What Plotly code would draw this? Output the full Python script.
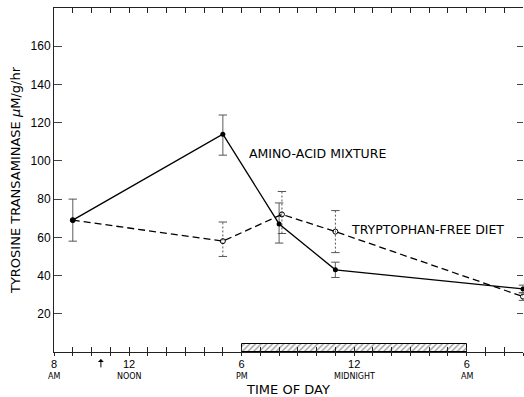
import plotly.graph_objects as go

# ---- data ----
hours_amino = [9, 17, 20, 23, 33]
amino_mean = [69, 114, 67, 43, 33]
amino_hi = [80, 124, 78, 47, 35]
amino_lo = [58, 103, 57, 39, 31]

hours_trp = [9, 17, 20.15, 23, 33]
trp_mean = [69, 58, 72, 63, 29]
trp_hi = [None, 68, 84, 74, 31]
trp_lo = [None, 50, 62, 52, 27]

dark_start = 18
dark_end = 30
dark_bar_height = 4.3
arrow_hour = 10.5

y_tick_vals = [20, 40, 60, 80, 100, 120, 140, 160]
x_hours = list(range(8, 34))
x_label_map = {
    8: ("8", "AM"),
    12: ("12", "NOON"),
    18: ("6", "PM"),
    24: ("12", "MIDNIGHT"),
    30: ("6", "AM"),
}

FONT = "Liberation Sans, Arial, sans-serif"
WFONT = "DejaVu Sans, Liberation Sans, sans-serif"

fig = go.Figure()

# dark period hatched bar
fig.add_trace(go.Bar(
    x=[(dark_start + dark_end) / 2], y=[dark_bar_height], width=[dark_end - dark_start],
    marker=dict(color="white", line=dict(color="black", width=1),
                pattern=dict(shape="/", fgcolor="#222", bgcolor="white", size=4, solidity=0.3)),
    showlegend=False, hoverinfo="skip", cliponaxis=False,
))

# amino-acid mixture error bars (solid grey)
ex, ey = [], []
for t, lo, hi in zip(hours_amino, amino_lo, amino_hi):
    ex += [t, t, None]
    ey += [lo, hi, None]
fig.add_trace(go.Scatter(x=ex, y=ey, mode="lines", line=dict(color="#777", width=1.2),
                         showlegend=False, hoverinfo="skip", cliponaxis=False))
fig.add_trace(go.Scatter(x=hours_amino + hours_amino, y=amino_lo + amino_hi, mode="markers",
                         marker=dict(symbol="line-ew", size=6, line=dict(color="#555", width=1)),
                         showlegend=False, hoverinfo="skip", cliponaxis=False))

# tryptophan-free error bars (dotted)
tx, ty, cx, cy = [], [], [], []
for t, lo, hi in zip(hours_trp, trp_lo, trp_hi):
    if lo is None:
        continue
    tx += [t, t, None]
    ty += [lo, hi, None]
    cx += [t, t]
    cy += [lo, hi]
fig.add_trace(go.Scatter(x=tx, y=ty, mode="lines", line=dict(color="#555", width=1, dash="2px,2px"),
                         showlegend=False, hoverinfo="skip", cliponaxis=False))
fig.add_trace(go.Scatter(x=cx, y=cy, mode="markers",
                         marker=dict(symbol="line-ew", size=6, line=dict(color="#555", width=1)),
                         showlegend=False, hoverinfo="skip", cliponaxis=False))

# series lines
fig.add_trace(go.Scatter(x=hours_trp, y=trp_mean, mode="lines+markers",
                         line=dict(color="black", width=1.3, dash="7px,4px"),
                         marker=dict(symbol="circle-open", size=5, color="black", line=dict(width=1)),
                         showlegend=False, cliponaxis=False))
fig.add_trace(go.Scatter(x=hours_amino, y=amino_mean, mode="lines+markers",
                         line=dict(color="black", width=1.3),
                         marker=dict(symbol="circle", size=5, color="black"),
                         showlegend=False, cliponaxis=False))

# invisible traces to activate the extra axes
fig.add_trace(go.Scatter(x=[8, 33], y=[0, 180], xaxis="x2", yaxis="y", mode="markers",
                         marker=dict(opacity=0), showlegend=False, hoverinfo="skip"))
fig.add_trace(go.Scatter(x=[8, 33], y=[0, 180], xaxis="x", yaxis="y2", mode="markers",
                         marker=dict(opacity=0), showlegend=False, hoverinfo="skip"))

ticktext = [x_label_map[h][0] if h in x_label_map else "" for h in x_hours]

annotations = [
    dict(x=18.3, y=104, xref="x", yref="y", text="AMINO-ACID MIXTURE", showarrow=False,
         xanchor="left", yanchor="middle", font=dict(size=12.5, family=WFONT)),
    dict(x=23.7, y=64, xref="x", yref="y", text="TRYPTOPHAN-FREE DIET", showarrow=False,
         xanchor="left", yanchor="middle", font=dict(size=12.5, family=WFONT)),
    dict(x=arrow_hour, y=-0.02, xref="x", yref="paper", text="", showarrow=True,
         ax=0, ay=10, arrowhead=1, arrowsize=1, arrowwidth=1, arrowcolor="black"),
]
for h, (num, sub) in x_label_map.items():
    annotations.append(dict(x=h, y=0, xref="x", yref="paper", yshift=-24, text=sub,
                            showarrow=False, xanchor="center", yanchor="middle",
                            font=dict(size=8, family=WFONT)))

fig.update_layout(
    width=524, height=397,
    margin=dict(l=54, r=1, t=8, b=45),
    plot_bgcolor="white", paper_bgcolor="white",
    font=dict(family=FONT, color="black", size=12),
    bargap=0,
    xaxis=dict(
        range=[8, 33], tickmode="array", tickvals=x_hours, ticktext=ticktext,
        ticks="inside", ticklen=5, tickcolor="#222", tickwidth=1,
        showline=True, linecolor="#222", linewidth=1, mirror="ticks",
        showgrid=False, zeroline=False, tickfont=dict(size=11), ticklabelstandoff=2,
        title=dict(text="TIME OF DAY", font=dict(size=13, family=WFONT), standoff=16),
    ),
    xaxis2=dict(
        range=[8, 33], overlaying="x", anchor="y", side="bottom",
        tickmode="array", tickvals=x_hours, showticklabels=False,
        ticks="outside", ticklen=3, tickcolor="#222", showline=False,
        showgrid=False, zeroline=False,
    ),
    yaxis=dict(
        range=[0, 180], tickmode="array", tickvals=y_tick_vals,
        ticks="inside", ticklen=8, tickcolor="#444", tickwidth=1,
        showline=True, linecolor="#222", linewidth=1,
        showgrid=False, zeroline=False, tickfont=dict(size=12),
        title=dict(text="TYROSINE TRANSAMINASE <i>μ</i>M/g/hr", font=dict(size=13, family=WFONT), standoff=7),
    ),
    yaxis2=dict(
        range=[0, 180], overlaying="y", anchor="x", side="right",
        tickmode="array", tickvals=y_tick_vals, showticklabels=False,
        ticks="inside", ticklen=6, tickcolor="#444", showline=False,
        showgrid=False, zeroline=False,
    ),
    annotations=annotations,
)

fig.write_html("out.html")
